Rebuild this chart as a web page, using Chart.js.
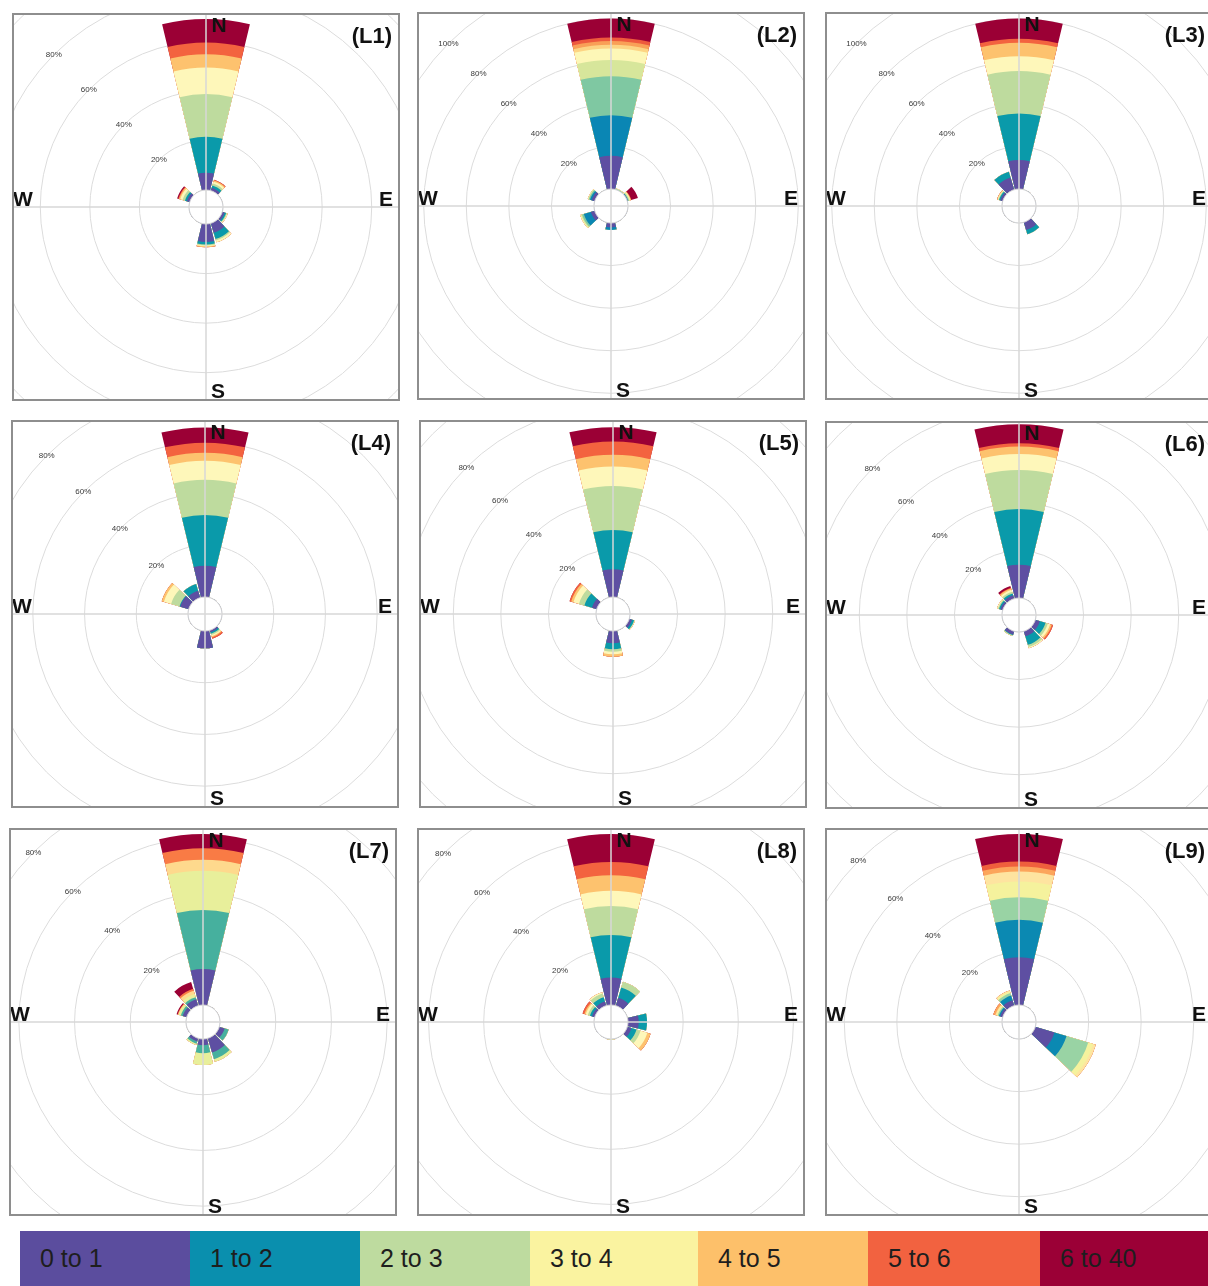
<!DOCTYPE html>
<html>
<head>
<meta charset="utf-8">
<title>Wind roses L1-L9</title>
<script src="https://cdn.jsdelivr.net/npm/chart.js@4.4.1/dist/chart.umd.min.js"></script>
<style>
  html, body { margin: 0; padding: 0; background: #fff; }
  body { width: 1208px; height: 1286px; position: relative; overflow: hidden; font-family: "Liberation Sans", Arial, sans-serif; }
  .panel { position: absolute; width: 388px; height: 388px; box-sizing: border-box; border: 2px solid #8e8e8e; overflow: hidden; background: #fff; }
  .panel canvas { position: absolute; }
  .legend-cell { position: absolute; top: 1231px; height: 55px; line-height: 55px; box-sizing: border-box; padding-left: 20px; font-size: 25px; color: #1e1e1e; white-space: nowrap; }
</style>
</head>
<body>
<div id="panels"></div>
<div id="legend"></div>
<script>
// wind direction sectors, degrees clockwise from north
const directions = [0, 30, 60, 90, 120, 150, 180, 210, 240, 270, 300, 330];
// wind speed classes shown in the legend
const speedBins = ['0 to 1', '1 to 2', '2 to 3', '3 to 4', '4 to 5', '5 to 6', '6 to 40'];
const legendColors = ['#5b4d9e', '#0a8fae', '#bedb9f', '#faf3a0', '#fdc06a', '#f26240', '#9b0036'];

// frequency (%) : one row per speed band, one column per direction (N ... 330)
const l1 = [
  [7.0, 1.2, 0, 0, 1.0, 4.0, 7.3, 0, 0, 0, 1.2, 0],
  [14.5, 1.0, 0, 0, 0.6, 2.6, 1.0, 0, 0, 0, 0.8, 0],
  [17.2, 0.8, 0, 0, 0.4, 0.6, 0.4, 0, 0, 0, 1.0, 0],
  [10.7, 0.8, 0, 0, 0.3, 0.8, 0.3, 0, 0, 0, 1.0, 0],
  [5.4, 0.5, 0, 0, 0, 0, 0.4, 0, 0, 0, 0.5, 0],
  [4.7, 0.3, 0, 0, 0, 0, 0, 0, 0, 0, 0.3, 0],
  [9.5, 0, 0, 0, 0, 0, 0, 0, 0, 0, 0.5, 0]
];
const l2 = [
  [15.6, 0, 0.2, 0, 0, 0, 2.0, 0, 1.9, 0, 1.5, 0],
  [19.1, 0, 0.2, 0, 0, 0, 1.3, 0, 3.4, 0, 0.8, 0],
  [18.3, 0.3, 0.4, 0, 0, 0, 0, 0, 0.9, 0, 0.6, 0],
  [7.6, 0.3, 0.4, 0, 0, 0, 0, 0, 0.5, 0, 0.3, 0],
  [5.4, 0, 0.3, 0, 0, 0, 0, 0, 0.4, 0, 0.2, 0],
  [1.8, 0, 0.2, 0, 0, 0, 0, 0, 0, 0, 0, 0],
  [1.7, 0, 0.1, 0, 0, 0, 0, 0, 0, 0, 0, 0],
  [1.7, 0, 0.2, 0, 0, 0, 0, 0, 0, 0, 0, 0],
  [8.9, 0, 3.2, 0, 0, 0, 0, 0, 0, 0, 0, 0]
];
const l3 = [
  [13.6, 0, 0, 0, 0, 3.8, 0, 0, 0, 0, 1.2, 6.0],
  [21.9, 0, 0, 0, 0, 2.0, 0, 0, 0, 0, 0.6, 2.8],
  [19.9, 0, 0, 0, 0, 0, 0, 0, 0, 0, 0.4, 0],
  [7.0, 0, 0, 0, 0, 0, 0, 0, 0, 0, 0.3, 0],
  [6.3, 0, 0, 0, 0, 0, 0, 0, 0, 0, 0.3, 0],
  [1.9, 0, 0, 0, 0, 0, 0, 0, 0, 0, 0, 0],
  [9.5, 0, 0, 0, 0, 0, 0, 0, 0, 0, 0, 0]
];
const l4 = [
  [12.1, 0, 0, 0, 0, 0.8, 6.7, 0, 0, 0, 3.4, 2.8],
  [19.6, 0, 0, 0, 0, 0.6, 0, 0, 0, 0, 0.3, 2.7],
  [13.6, 0, 0, 0, 0, 0.5, 0, 0, 0, 0, 3.4, 0],
  [7.4, 0, 0, 0, 0, 0.5, 0, 0, 0, 0, 2.9, 0],
  [3.1, 0, 0, 0, 0, 0.4, 0, 0, 0, 0, 0.9, 0],
  [3.9, 0, 0, 0, 0, 0.6, 0, 0, 0, 0, 0, 0],
  [5.9, 0, 0, 0, 0, 0, 0, 0, 0, 0, 0, 0]
];
const l5 = [
  [11.7, 0, 0, 0, 1.2, 0, 5.2, 0, 0, 0, 2.1, 0],
  [16.5, 0, 0, 0, 0.9, 0, 2.5, 0, 0, 0, 3.3, 0],
  [18.5, 0, 0, 0, 0.2, 0, 1.0, 0, 0, 0, 2.4, 0],
  [8.2, 0, 0, 0, 0.2, 0, 1.1, 0, 0, 0, 2.4, 0],
  [4.9, 0, 0, 0, 0, 0, 1.0, 0, 0, 0, 1.0, 0],
  [5.6, 0, 0, 0, 0, 0, 0, 0, 0, 0, 0.7, 0],
  [6.0, 0, 0, 0, 0, 0, 0, 0, 0, 0, 0, 0]
];
const l6 = [
  [14.0, 0, 0, 0, 2.0, 2.2, 0, 1.5, 0, 0, 1.0, 1.5],
  [23.4, 0, 0, 0, 2.5, 3.7, 0, 0.2, 0, 0, 0.6, 0.8],
  [16.4, 0, 0, 0, 1.0, 1.0, 0, 0.4, 0, 0, 0.5, 0.8],
  [6.7, 0, 0, 0, 1.0, 0.5, 0, 0, 0, 0, 0.4, 0.8],
  [3.2, 0, 0, 0, 0.7, 0, 0, 0, 0, 0, 0, 0.6],
  [1.4, 0, 0, 0, 0.6, 0, 0, 0, 0, 0, 0, 0.3],
  [8.0, 0, 0, 0, 0, 0, 0, 0, 0, 0, 0, 0.8]
];
const l7 = [
  [12.9, 0, 0, 0, 2.0, 5.3, 2.2, 1.2, 0, 0, 1.5, 2.4],
  [21.2, 0, 0, 0, 1.5, 2.5, 2.9, 0.8, 0, 0, 0.7, 0.8],
  [14.1, 0, 0, 0, 0, 1.0, 4.2, 0.5, 0, 0, 0.8, 1.2],
  [3.9, 0, 0, 0, 0, 0, 0, 0, 0, 0, 0.2, 1.2],
  [4.2, 0, 0, 0, 0, 0, 0, 0, 0, 0, 0.2, 0.7],
  [5.1, 0, 0, 0, 0, 0, 0, 0, 0, 0, 0.4, 2.6]
];
const l8 = [
  [10.0, 3.0, 0, 3.9, 1.6, 0, 0, 0, 0, 0, 1.0, 1.6],
  [15.4, 3.9, 0, 3.0, 1.9, 0, 0, 0, 0, 0, 0.8, 1.6],
  [10.5, 2.2, 0, 0, 1.5, 0, 0.3, 0, 0, 0, 0.8, 1.4],
  [5.5, 0, 0, 0, 2.6, 0, 0, 0, 0, 0, 0.8, 0.5],
  [5.7, 0, 0, 0, 1.2, 0, 0, 0, 0, 0, 0.5, 0],
  [4.8, 0, 0, 0, 0, 0, 0, 0, 0, 0, 0.7, 0],
  [10.1, 0, 0, 0, 0, 0, 0, 0, 0, 0, 0, 0]
];
const l9 = [
  [18.2, 0, 0, 0, 7.6, 0, 0, 0, 0, 0, 1.0, 2.2],
  [14.2, 0, 0, 0, 4.8, 0, 0, 0, 0, 0, 0.5, 1.8],
  [8.6, 0, 0, 0, 8.6, 0, 0, 0, 0, 0, 0.5, 1.0],
  [6.0, 0, 0, 0, 2.0, 0, 0, 0, 0, 0, 0.5, 0.6],
  [3.8, 0, 0, 0, 1.0, 0, 0, 0, 0, 0, 0.4, 0.4],
  [1.9, 0, 0, 0, 0, 0, 0, 0, 0, 0, 0.8, 0],
  [1.9, 0, 0, 0, 0, 0, 0, 0, 0, 0, 0, 0],
  [10.5, 0, 0, 0, 0, 0, 0, 0, 0, 0, 0, 0]
];

const panelNames = ['(L1)', '(L2)', '(L3)', '(L4)', '(L5)', '(L6)', '(L7)', '(L8)', '(L9)'];
const panelValues = [l1, l2, l3, l4, l5, l6, l7, l8, l9];
const percentTicks = [
  [20, 40, 60, 80], [20, 40, 60, 80, 100], [20, 40, 60, 80, 100],
  [20, 40, 60, 80], [20, 40, 60, 80], [20, 40, 60, 80],
  [20, 40, 60, 80], [20, 40, 60, 80], [20, 40, 60, 80]
];

// band colours (some roses use a finer palette than the legend)
const pal7 = ['#5e4fa2', '#0a9aaa', '#bedb9e', '#fef7ba', '#fdc26e', '#f3633f', '#9b0035'];
const palL2 = ['#5e4fa2', '#0a86b4', '#7fc8a2', '#d7e69b', '#fdf7b7', '#fdd483', '#f9a057', '#ee5a3d', '#9b0035'];
const palL7 = ['#5e4fa2', '#46b09e', '#e8ef9b', '#fed98d', '#f97b45', '#9b0035'];
const palL9 = ['#5e4fa2', '#0b89b2', '#99d3a4', '#f5f29d', '#fee4a0', '#fca55b', '#ef5f3d', '#9b0035'];
const panelColors = [pal7, palL2, pal7, pal7, pal7, pal7, palL7, pal7, palL9];

// layout: outer corner of each framed panel, and pixels per 1 % on its radial axis
const panelBoxes = [[12, 13], [417, 12], [825, 12], [11, 420], [419, 420], [825, 421], [9, 828], [417, 828], [825, 828]];
const pxPerPct = [2.475, 2.13, 2.13, 2.585, 2.375, 2.38, 2.785, 2.76, 2.625];

const HOLE = 17;          // empty centre, px
const BAR = 27, GAP = 3;  // each 30 degree sector = bar + gap
const TOP = 140;          // outer value of the radial axis (beyond the frame)
const INNER = 192;        // half of the panel's inner size

const slotLabels = [];
directions.forEach(d => { slotLabels.push(d + '°', ''); });

panelValues.forEach((rows, p) => {
  const box = document.createElement('div');
  box.className = 'panel';
  box.style.left = panelBoxes[p][0] + 'px';
  box.style.top = panelBoxes[p][1] + 'px';
  const D = Math.round(TOP * pxPerPct[p] + HOLE);
  const canvas = document.createElement('canvas');
  canvas.width = 2 * D;
  canvas.height = 2 * D;
  canvas.style.left = (INNER - D) + 'px';
  canvas.style.top = (INNER - D) + 'px';
  box.appendChild(canvas);
  document.getElementById('panels').appendChild(box);

  // stacked bands: each dataset holds the running total, smaller ones drawn on top
  const datasets = rows.map((row, i) => {
    const data = [];
    directions.forEach((d, j) => {
      let total = 0;
      for (let b = 0; b <= i; b++) total += rows[b][j];
      data.push(total, 0);
    });
    return {
      label: 'band ' + (i + 1),
      data: data,
      backgroundColor: panelColors[p][i],
      borderWidth: 0,
      angle: c => (c.dataIndex % 2 ? GAP : BAR)
    };
  });

  const decorations = {
    id: 'rose' + p,
    afterDatasetsDraw(chart) {
      const s = chart.scales.r;
      const ctx = chart.ctx;
      const cx = s.xCenter, cy = s.yCenter;
      const r0 = s.getDistanceFromCenterForValue(0);
      ctx.save();
      ctx.beginPath();
      ctx.arc(cx, cy, r0, 0, Math.PI * 2);
      ctx.fillStyle = '#fff';
      ctx.fill();
      ctx.strokeStyle = '#d6d6d6';
      ctx.lineWidth = 1;
      ctx.stroke();

      ctx.strokeStyle = '#d8d8d8';
      ctx.lineWidth = 1.5;
      ctx.beginPath();
      ctx.moveTo(cx, 0); ctx.lineTo(cx, chart.height);
      ctx.moveTo(0, cy); ctx.lineTo(chart.width, cy);
      ctx.stroke();

      // percent labels along the north-west diagonal
      ctx.fillStyle = '#3a3a3a';
      ctx.font = '8px "Liberation Sans", Arial, sans-serif';
      ctx.textAlign = 'center';
      ctx.textBaseline = 'middle';
      percentTicks[p].forEach(v => {
        const r = s.getDistanceFromCenterForValue(v) * Math.SQRT1_2;
        ctx.fillText(v + '%', cx - r, cy - r);
      });

      ctx.fillStyle = '#111';
      ctx.font = 'bold 21px "Liberation Sans", Arial, sans-serif';
      ctx.textBaseline = 'alphabetic';
      ctx.fillText('N', cx + 13, cy - 175);
      ctx.fillText('S', cx + 12, cy + 191);
      ctx.fillText('E', cx + 180, cy - 1);
      ctx.fillText('W', cx - 183, cy - 1);

      ctx.font = 'bold 22px "Liberation Sans", Arial, sans-serif';
      ctx.textAlign = 'right';
      ctx.fillText(panelNames[p], cx + 186, cy - 164);
      ctx.restore();
    }
  };

  new Chart(canvas, {
    type: 'polarArea',
    data: { labels: slotLabels, datasets: datasets },
    options: {
      responsive: false,
      animation: false,
      devicePixelRatio: 1,
      events: [],
      plugins: { legend: { display: false }, tooltip: { enabled: false } },
      scales: {
        r: {
          min: -TOP * HOLE / (D - HOLE),
          max: TOP,
          startAngle: -BAR / 2,
          beginAtZero: false,
          ticks: { display: false, stepSize: 20 },
          grid: { color: '#dcdcdc', lineWidth: 1 },
          angleLines: { display: false },
          pointLabels: { display: false }
        }
      }
    },
    plugins: [decorations]
  });
});

// colour key along the bottom
const legendLefts = [20, 190, 360, 530, 698, 868, 1040];
const legendWidths = [170, 170, 170, 168, 170, 172, 168];
speedBins.forEach((name, i) => {
  const cell = document.createElement('div');
  cell.className = 'legend-cell';
  cell.style.left = legendLefts[i] + 'px';
  cell.style.width = legendWidths[i] + 'px';
  cell.style.background = legendColors[i];
  cell.textContent = name;
  document.getElementById('legend').appendChild(cell);
});
</script>
</body>
</html>
